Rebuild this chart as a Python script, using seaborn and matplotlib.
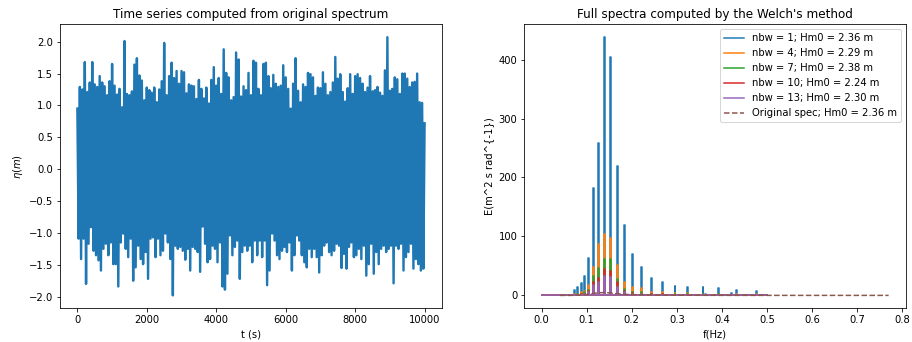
import numpy as np
import pandas as pd
import matplotlib
matplotlib.use("Agg")
import matplotlib.pyplot as plt
import seaborn as sns

# ---------------- data: time series crests / troughs ----------------
t_start, t_end = 0.0, 10000.0
eta_crests = [0.95, 1.29, 1.25, 1.68, 1.21, 1.36, 1.68, 1.33, 1.29, 1.46, 1.36, 1.30, 1.16, 1.38,
              1.65, 1.31, 1.17, 1.26, 0.97, 2.01, 1.18, 1.16, 1.22, 1.64, 1.74, 1.47, 1.39, 1.08,
              1.28, 1.24, 1.20, 1.28, 1.05, 1.25, 1.38, 1.98, 1.16, 1.46, 1.67, 1.43, 1.54, 1.34,
              1.54, 1.52, 1.19, 1.33, 1.31, 1.30, 1.10, 1.40, 1.26, 1.11, 1.28, 1.03, 1.40, 1.60,
              1.31, 1.43, 1.18, 1.88, 1.51, 1.44, 1.08, 1.13, 1.83, 1.72, 1.14, 1.30,
              1.24, 1.51, 1.16, 1.70, 1.67, 1.26, 1.16, 1.65, 1.67, 1.46, 1.27, 1.48, 1.34, 1.29,
              1.31, 1.63, 1.44, 1.26, 0.95, 1.34, 1.74, 1.23, 1.05, 1.33, 1.29, 1.51, 1.49, 1.44,
              1.15, 1.28, 1.27, 1.52, 1.34, 1.16, 1.21, 1.36, 1.76, 1.42, 1.49, 1.21, 1.06, 1.27,
              1.49, 1.18, 1.46, 1.49, 1.43, 1.34, 1.21, 1.28, 1.46, 1.22, 1.24, 1.29, 1.20, 1.15,
              1.55, 2.07, 1.23, 1.26, 1.44, 1.41, 1.18, 1.50, 1.50, 1.42, 1.29, 1.36, 1.37, 1.50,
              1.05, 1.04]
eta_troughs = [-1.09, -1.41, -1.09, -1.80, -1.17, -0.91, -1.28, -1.35, -1.43, -1.59, -1.25, -1.17,
               -1.35, -1.15, -1.49, -1.49, -1.84, -1.15, -1.01, -1.25, -1.38, -1.09, -1.75, -1.54,
               -1.20, -1.41, -1.49, -1.30, -1.72, -1.09, -1.07, -1.38, -1.09, -1.35, -1.28, -1.01,
               -1.15, -1.41, -1.98, -1.20, -1.25, -1.22, -1.28, -1.42, -1.25, -1.59, -1.22, -1.25,
               -1.30, -1.61, -0.90, -1.17, -1.46, -1.41, -1.20, -1.25, -1.46, -1.15, -1.84, -1.89,
               -1.64, -1.04, -1.35, -1.22, -1.12, -1.72, -1.30, -1.20, -1.28, -1.20, -1.46, -1.12,
               -1.35, -1.12, -1.38, -1.12, -1.82, -1.59, -1.01, -1.12, -1.35, -1.41, -1.28, -1.22,
               -1.30, -1.15, -1.59, -1.35, -1.04, -1.12, -1.35, -1.46, -1.54, -1.25, -1.38, -1.25,
               -1.38, -1.62, -1.35, -1.20, -1.15, -1.30, -1.35, -1.28, -1.17, -1.20, -1.55, -1.33,
               -1.56, -1.22, -1.15, -1.38, -1.35, -1.25, -1.41, -1.20, -1.67, -1.49, -1.17, -1.64,
               -1.30, -1.49, -1.25, -1.20, -1.30, -1.25, -1.20, -1.79, -1.20, -1.25, -1.17, -1.59,
               -1.38, -1.30, -1.17, -1.56, -1.41, -1.49, -1.59, -1.56, -1.22, -1.54, -1.30]
eta_last = 0.72

# ---------------- data: spectra ----------------
spike_f = [0.073, 0.079, 0.088, 0.095, 0.105, 0.115, 0.126, 0.139, 0.152, 0.167, 0.184, 0.202,
           0.222, 0.244, 0.268, 0.295, 0.325, 0.358, 0.365, 0.393, 0.422, 0.432, 0.477]
E_nbw1 = [9, 15, 21, 33, 63, 182, 259, 438, 404, 220, 119, 70, 49, 29, 23, 16, 15, 15, 2, 12, 4.5, 10, 8]
E_nbw4 = [2, 3, 5, 8, 17, 49, 88, 104, 97, 51, 23, 15, 13, 6, 5, 4, 4, 3, 1, 3, 1, 2, 2]
E_nbw7 = [1, 2, 3, 5, 10, 33, 47, 61, 61, 27, 11, 6, 5, 3, 3, 2, 2, 2, 0.5, 2, 0.5, 1, 1]
E_nbw10 = [1, 1, 2, 3, 7, 23, 29, 44, 42, 23, 8, 4, 3, 2, 2, 1, 1, 1, 0.3, 1, 0.3, 1, 1]
E_nbw13 = [0.5, 1, 1.5, 3, 5, 17, 23, 33, 32, 15, 5, 3, 2, 1.5, 1, 1, 1, 1, 0.2, 1, 0.2, 0.5, 0.5]
f_nyquist = 0.5
labels = ["nbw = 1; Hm0 = 2.36 m", "nbw = 4; Hm0 = 2.29 m", "nbw = 7; Hm0 = 2.38 m",
          "nbw = 10; Hm0 = 2.24 m", "nbw = 13; Hm0 = 2.30 m"]
orig_f = [0.04, 0.06, 0.08, 0.10, 0.12, 0.14, 0.16, 0.18, 0.20, 0.25, 0.30, 0.40, 0.50, 0.60, 0.77]
orig_E = [0.0, 0.0, 0.3, 1.5, 4.0, 5.0, 3.5, 2.0, 1.3, 0.6, 0.3, 0.1, 0.05, 0.02, 0.01]
orig_label = "Original spec; Hm0 = 2.36 m"

colors = ["#1f77b4", "#ff7f0e", "#2ca02c", "#d62728", "#9467bd"]

# ---------------- build time series table (strictly alternating crest / trough) ----------------
eta_vals = []
for c, tr in zip(eta_crests, eta_troughs):
    eta_vals += [c, tr]
eta_vals.append(eta_last)
ts = pd.DataFrame({"t": np.linspace(t_start, t_end, len(eta_vals)), "eta": eta_vals})

# ---------------- build spectra on a frequency grid ----------------
df_bin = 0.002
f_grid = np.round(np.arange(0, f_nyquist + df_bin / 2, df_bin), 6)
idx = [int(round(f / df_bin)) for f in spike_f]

def spectrum(vals):
    e = np.zeros_like(f_grid)
    for i, v in zip(idx, vals):
        e[i] = v
    return e

spectra = [E_nbw1, E_nbw4, E_nbw7, E_nbw10, E_nbw13]

# ---------------- plot ----------------
fig = plt.figure(figsize=(912 / 72, 342 / 72), dpi=72)
ax1 = fig.add_axes([0.0658, 0.0985, 0.4188, 0.8305])
ax2 = fig.add_axes([0.5749, 0.0985, 0.4185, 0.8305])

sns.lineplot(data=ts, x="t", y="eta", ax=ax1, color="#1f77b4", linewidth=2.4,
             estimator=None, sort=False)
ax1.set_title("Time series computed from original spectrum", fontsize=12)
ax1.set_xlabel("t (s)")
ax1.set_ylabel(r"$\eta(m)$")
ax1.set_yticks([-2.0, -1.5, -1.0, -0.5, 0.0, 0.5, 1.0, 1.5, 2.0])

for vals, lab, c in zip(spectra, labels, colors):
    sns.lineplot(x=f_grid, y=spectrum(vals), ax=ax2, color=c, linewidth=1.5, label=lab,
                 estimator=None, sort=False, drawstyle="steps-mid")
sns.lineplot(x=orig_f, y=orig_E, ax=ax2, color="#8c564b", linewidth=1.5, linestyle="--",
             label=orig_label, estimator=None, sort=False)
ax2.set_title("Full spectra computed by the Welch's method", fontsize=12)
ax2.set_xlabel("f(Hz)")
ax2.set_ylabel("E(m^2 s rad^{-1})")
ax2.set_xticks(np.arange(0, 0.81, 0.1))
ax2.set_yticks([0, 100, 200, 300, 400])
ax2.legend(loc="upper right", fontsize=10)

fig.savefig("out.png", dpi=72)
